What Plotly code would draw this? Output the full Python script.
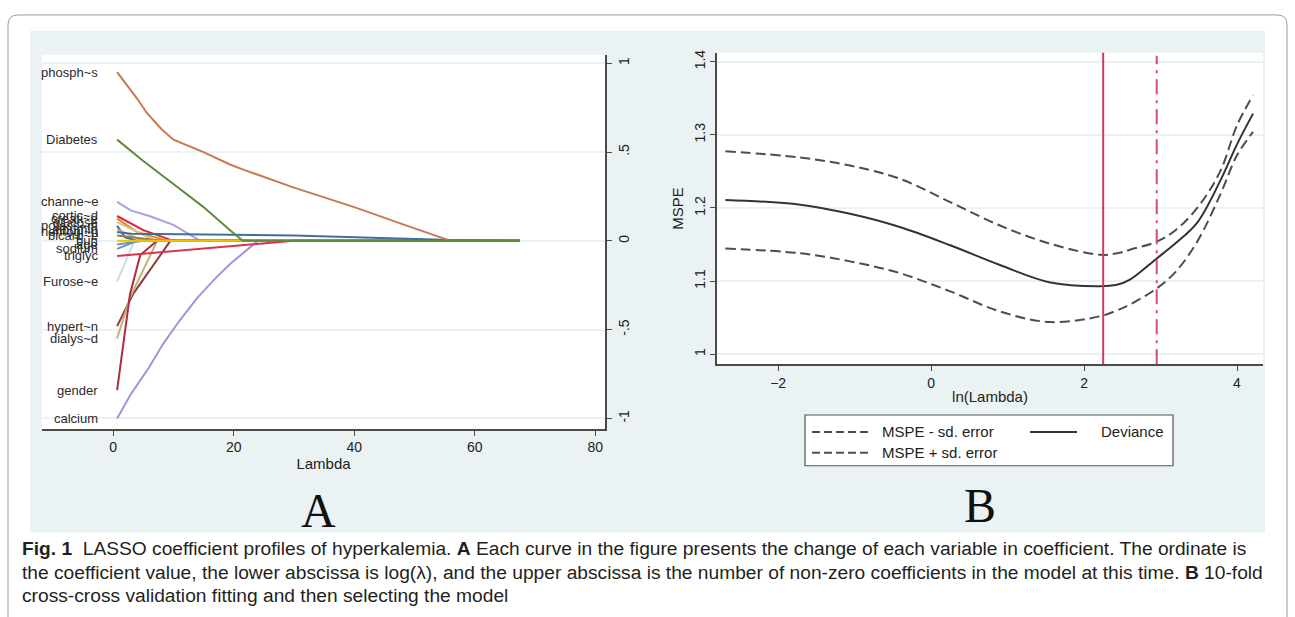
import plotly.graph_objects as go

W, H = 1295, 617

# ---------------- Panel A data: LASSO coefficient paths ----------------
LAMBDA_END = 67.5

phosph_lam = [0.66, 2, 4, 5.6, 8, 10, 15, 19.4, 21.7, 30, 40, 50, 56, LAMBDA_END]
phosph_coef = [0.95, 0.89, 0.80, 0.72, 0.63, 0.57, 0.50, 0.43, 0.40, 0.30, 0.19, 0.07, 0.0, 0.0]

diabetes_lam = [0.66, 5, 10, 15, 19.4, 21.5, LAMBDA_END]
diabetes_coef = [0.57, 0.45, 0.32, 0.19, 0.06, 0.0, 0.0]

channel_lam = [0.66, 3, 6, 10, 13, 14.5, LAMBDA_END]
channel_coef = [0.22, 0.17, 0.14, 0.09, 0.03, 0.0, 0.0]

corticoid_lam = [0.66, 5, 10, LAMBDA_END]
corticoid_coef = [0.14, 0.06, 0.0, 0.0]

creatinine_lam = [0.66, 4, 9, LAMBDA_END]
creatinine_coef = [0.125, 0.05, 0.0, 0.0]

glucose_lam = [0.66, 7, LAMBDA_END]
glucose_coef = [0.105, 0.0, 0.0]

potassium_lam = [0.66, 2, 4, LAMBDA_END]
potassium_coef = [0.085, 0.02, 0.0, 0.0]

albumin_lam = [0.66, 5, LAMBDA_END]
albumin_coef = [0.065, 0.0, 0.0]

hemoglobin_lam = [0.66, 3, 30, 56, LAMBDA_END]
hemoglobin_coef = [0.05, 0.04, 0.03, 0.005, 0.0]

bicarb_lam = [0.66, 8, LAMBDA_END]
bicarb_coef = [0.03, 0.0, 0.0]

bun_lam = [0.66, 6, LAMBDA_END]
bun_coef = [0.0, 0.0, 0.0]

age_lam = [0.66, 5, LAMBDA_END]
age_coef = [-0.02, 0.0, 0.0]

sodium_lam = [0.66, 4, LAMBDA_END]
sodium_coef = [-0.045, 0.0, 0.0]

triglyc_lam = [0.66, 30, LAMBDA_END]
triglyc_coef = [-0.085, 0.0, 0.0]

furose_lam = [0.66, 3.5, LAMBDA_END]
furose_coef = [-0.23, 0.0, 0.0]

hypert_lam = [0.66, 3.3, 9.5, LAMBDA_END]
hypert_coef = [-0.48, -0.30, 0.0, 0.0]

dialys_lam = [0.66, 2.8, 7.3, LAMBDA_END]
dialys_coef = [-0.55, -0.32, 0.0, 0.0]

gender_lam = [0.66, 2.8, 4.5, 7.3, LAMBDA_END]
gender_coef = [-0.84, -0.30, -0.08, 0.0, 0.0]

calcium_lam = [0.66, 3, 6, 8.3, 11, 14, 17, 19.4, 24, LAMBDA_END]
calcium_coef = [-1.0, -0.86, -0.71, -0.58, -0.45, -0.32, -0.21, -0.13, 0.0, 0.0]

# (label, lambdas, coefficients, colour)
variables = [
    ("hypert~n", hypert_lam, hypert_coef, "#93383e"),
    ("dialys~d", dialys_lam, dialys_coef, "#bdb46e"),
    ("gender", gender_lam, gender_coef, "#b02a40"),
    ("Furose~e", furose_lam, furose_coef, "#c9dde8"),
    ("calcium", calcium_lam, calcium_coef, "#9d95e2"),
    ("channe~e", channel_lam, channel_coef, "#a99fe4"),
    ("cortic~d", corticoid_lam, corticoid_coef, "#d9263e"),
    ("creati~e", creatinine_lam, creatinine_coef, "#e58b1c"),
    ("glucose", glucose_lam, glucose_coef, "#d3c28e"),
    ("potass~m", potassium_lam, potassium_coef, "#2f6aa0"),
    ("albumin", albumin_lam, albumin_coef, "#c9ad9f"),
    ("bicarb~e", bicarb_lam, bicarb_coef, "#a07a45"),
    ("age", age_lam, age_coef, "#7b92a8"),
    ("sodium", sodium_lam, sodium_coef, "#5f9cb8"),
    ("bun", bun_lam, bun_coef, "#f2c200"),
    ("triglyc", triglyc_lam, triglyc_coef, "#d8334f"),
    ("hemogl~n", hemoglobin_lam, hemoglobin_coef, "#3f6f9a"),
    ("phosph~s", phosph_lam, phosph_coef, "#c77a52"),
    ("Diabetes", diabetes_lam, diabetes_coef, "#5f8a3c"),
]

# ---------------- Panel B data: cross-validation curve ----------------
ln_lambda = [-2.69, -1.71, -1.06, -0.41, 0.25, 0.90, 1.56, 2.21, 2.43, 2.60, 2.95, 3.20, 3.48, 3.78, 4.00, 4.21]
mspe = [1.211, 1.2045, 1.192, 1.174, 1.149, 1.122, 1.098, 1.093, 1.095, 1.102, 1.131, 1.152, 1.180, 1.237, 1.287, 1.329]
mspe_plus_se = [1.2776, 1.269, 1.258, 1.240, 1.208, 1.176, 1.151, 1.136, 1.138, 1.143, 1.154, 1.170, 1.200, 1.250, 1.313, 1.354]
mspe_minus_se = [1.1446, 1.138, 1.127, 1.111, 1.086, 1.0585, 1.044, 1.052, 1.060, 1.068, 1.090, 1.113, 1.154, 1.218, 1.272, 1.304]
LN_LAMBDA_MIN = 2.25
LN_LAMBDA_1SE = 2.95

left_ticks = [-1, -0.5, 0, 0.5, 1]
left_ticktext = ["-1", "-.5", "0", ".5", "1"]
lambda_ticks = [0, 20, 40, 60, 80]
mspe_ticks = [1.0, 1.1, 1.2, 1.3, 1.4]
mspe_ticktext = ["1", "1.1", "1.2", "1.3", "1.4"]
ln_ticks = [-2, 0, 2, 4]

caption_lines = [
    "<b>Fig. 1</b>  LASSO coefficient profiles of hyperkalemia. <b>A</b> Each curve in the figure presents the change of each variable in coefficient. The ordinate is",
    "the coefficient value, the lower abscissa is log(\u03bb), and the upper abscissa is the number of non-zero coefficients in the model at this time. <b>B</b> 10-fold",
    "cross-cross validation fitting and then selecting the model",
]


def px(x):
    return x / W


def py(y):
    return 1 - y / H


FONT = "Liberation Sans, Arial, sans-serif"
AXC = "#4a4a4a"
BG = "#eaf2f3"

fig = go.Figure()

for name, lam, coef, col in variables:
    fig.add_trace(go.Scatter(x=lam, y=coef, mode="lines", name=name,
                             line=dict(color=col, width=2), xaxis="x", yaxis="y",
                             showlegend=False, hoverinfo="skip"))

dash_style = "10px,5px"
fig.add_trace(go.Scatter(x=ln_lambda, y=mspe_minus_se, mode="lines", line=dict(color="#4d4d4d", width=2, dash=dash_style, shape="spline"),
                         xaxis="x2", yaxis="y2", showlegend=False, name="MSPE - sd. error"))
fig.add_trace(go.Scatter(x=ln_lambda, y=mspe_plus_se, mode="lines", line=dict(color="#4d4d4d", width=2, dash=dash_style, shape="spline"),
                         xaxis="x2", yaxis="y2", showlegend=False, name="MSPE + sd. error"))
fig.add_trace(go.Scatter(x=ln_lambda, y=mspe, mode="lines", line=dict(color="#333333", width=2, shape="spline"),
                         xaxis="x2", yaxis="y2", showlegend=False, name="Deviance"))

shapes = []
# outer rounded border
r = 10
x0, y0, x1, y1 = 8, 12, 1287, 660
path = (f"M {px(x0)} {py(y0 + r)} Q {px(x0)} {py(y0)} {px(x0 + r)} {py(y0)} "
        f"L {px(x1 - r)} {py(y0)} Q {px(x1)} {py(y0)} {px(x1)} {py(y0 + r)} "
        f"L {px(x1)} {py(y1)} L {px(x0)} {py(y1)} Z")
shapes.append(dict(type="path", path=path, xref="paper", yref="paper",
                   line=dict(color="#9a9a9a", width=1), fillcolor="white", layer="below"))
# graph region background
shapes.append(dict(type="rect", xref="paper", yref="paper", x0=px(30), x1=px(1265), y0=py(532), y1=py(28),
                   fillcolor=BG, line=dict(width=0), layer="below"))
# plot regions
shapes.append(dict(type="rect", xref="paper", yref="paper", x0=px(42), x1=px(605), y0=py(428), y1=py(52),
                   fillcolor="white", line=dict(width=0), layer="below"))
shapes.append(dict(type="rect", xref="paper", yref="paper", x0=px(717), x1=px(1263), y0=py(363), y1=py(50),
                   fillcolor="white", line=dict(width=0), layer="below"))
# vertical lambda lines
shapes.append(dict(type="line", xref="x2", yref="y2 domain", x0=LN_LAMBDA_MIN, x1=LN_LAMBDA_MIN, y0=0, y1=1,
                   line=dict(color="#d8365a", width=2)))
shapes.append(dict(type="line", xref="x2", yref="y2 domain", x0=LN_LAMBDA_1SE, x1=LN_LAMBDA_1SE, y0=0, y1=0.99,
                   line=dict(color="#d9487a", width=2, dash="longdashdot")))
# legend box
shapes.append(dict(type="rect", xref="paper", yref="paper", x0=px(805), x1=px(1173), y0=py(465), y1=py(414),
                   fillcolor="white", line=dict(color="#555555", width=1.2), layer="below"))
shapes.append(dict(type="line", xref="paper", yref="paper", x0=px(812), x1=px(870), y0=py(431), y1=py(431),
                   line=dict(color="#4d4d4d", width=2, dash="8px,4px")))
shapes.append(dict(type="line", xref="paper", yref="paper", x0=px(812), x1=px(870), y0=py(452), y1=py(452),
                   line=dict(color="#4d4d4d", width=2, dash="8px,4px")))
shapes.append(dict(type="line", xref="paper", yref="paper", x0=px(1030), x1=px(1077), y0=py(431), y1=py(431),
                   line=dict(color="#333333", width=2)))

annotations = []
for name, lam, coef, col in variables:
    annotations.append(dict(x=-2.2, y=coef[0], xref="x", yref="y", text=name, showarrow=False,
                            xanchor="right", yanchor="middle", font=dict(family=FONT, size=13, color="#2a2a2a")))

annotations += [
    dict(x=px(880), y=py(431), xref="paper", yref="paper", text="MSPE - sd. error", showarrow=False,
         xanchor="left", yanchor="middle", font=dict(family=FONT, size=15, color="#222")),
    dict(x=px(880), y=py(452), xref="paper", yref="paper", text="MSPE + sd. error", showarrow=False,
         xanchor="left", yanchor="middle", font=dict(family=FONT, size=15, color="#222")),
    dict(x=px(1099), y=py(431), xref="paper", yref="paper", text="Deviance", showarrow=False,
         xanchor="left", yanchor="middle", font=dict(family=FONT, size=15, color="#222")),
    dict(x=px(318), y=py(510), xref="paper", yref="paper", text="A", showarrow=False,
         xanchor="center", yanchor="middle", font=dict(family="Liberation Serif, Times New Roman, serif", size=48, color="#111")),
    dict(x=px(980), y=py(505), xref="paper", yref="paper", text="B", showarrow=False,
         xanchor="center", yanchor="middle", font=dict(family="Liberation Serif, Times New Roman, serif", size=48, color="#111")),
]
for i, (line, ypix) in enumerate(zip(caption_lines, [548, 572, 595])):
    annotations.append(dict(x=px(20), y=py(ypix), xref="paper", yref="paper", text=line, showarrow=False,
                            xanchor="left", yanchor="middle",
                            font=dict(family="Liberation Sans Narrow, Arial Narrow, Liberation Sans, sans-serif", size=19.2, color="#231f20")))

fig.update_layout(
    width=W, height=H,
    margin=dict(l=0, r=0, t=0, b=0),
    paper_bgcolor="white",
    plot_bgcolor="rgba(0,0,0,0)",
    showlegend=False,
    font=dict(family=FONT, color="#222"),
    shapes=shapes,
    annotations=annotations,
    xaxis=dict(domain=[px(42), px(605)], range=[-11.8, 81.6], anchor="y",
               showline=True, linecolor=AXC, linewidth=1.5, ticks="outside", ticklen=5, tickcolor=AXC,
               tickvals=lambda_ticks, showgrid=False, zeroline=False,
               tickfont=dict(size=14, color="#222"),
               title=dict(text="Lambda", font=dict(size=15, color="#222"), standoff=2)),
    yaxis=dict(domain=[py(428), py(52)], range=[-1.059, 1.048], anchor="x", side="right",
               showline=True, linecolor=AXC, linewidth=1.5, ticks="outside", ticklen=5, tickcolor=AXC,
               tickvals=left_ticks, ticktext=left_ticktext, tickangle=-90,
               showgrid=True, gridcolor=BG, gridwidth=1.5, zeroline=False,
               tickfont=dict(size=14, color="#222")),
    xaxis2=dict(domain=[px(717), px(1263)], range=[-2.80, 4.34], anchor="y2",
                showline=True, linecolor=AXC, linewidth=1.5, ticks="outside", ticklen=5, tickcolor=AXC,
                tickvals=ln_ticks, showgrid=False, zeroline=False,
                tickfont=dict(size=14, color="#222"),
                title=dict(text="ln(Lambda)", font=dict(size=15, color="#222"), standoff=2)),
    yaxis2=dict(domain=[py(363), py(50)], range=[0.9864, 1.4122], anchor="x2",
                showline=True, linecolor=AXC, linewidth=1.5, ticks="outside", ticklen=5, tickcolor=AXC,
                tickvals=mspe_ticks, ticktext=mspe_ticktext, tickangle=-90,
                showgrid=True, gridcolor=BG, gridwidth=1.5, zeroline=False,
                tickfont=dict(size=14, color="#222"),
                title=dict(text="MSPE", font=dict(size=15, color="#222"), standoff=4)),
)

fig.write_html("out.html", config={"displayModeBar": False},
               post_script="document.body.style.margin='0';document.body.style.padding='0';")
